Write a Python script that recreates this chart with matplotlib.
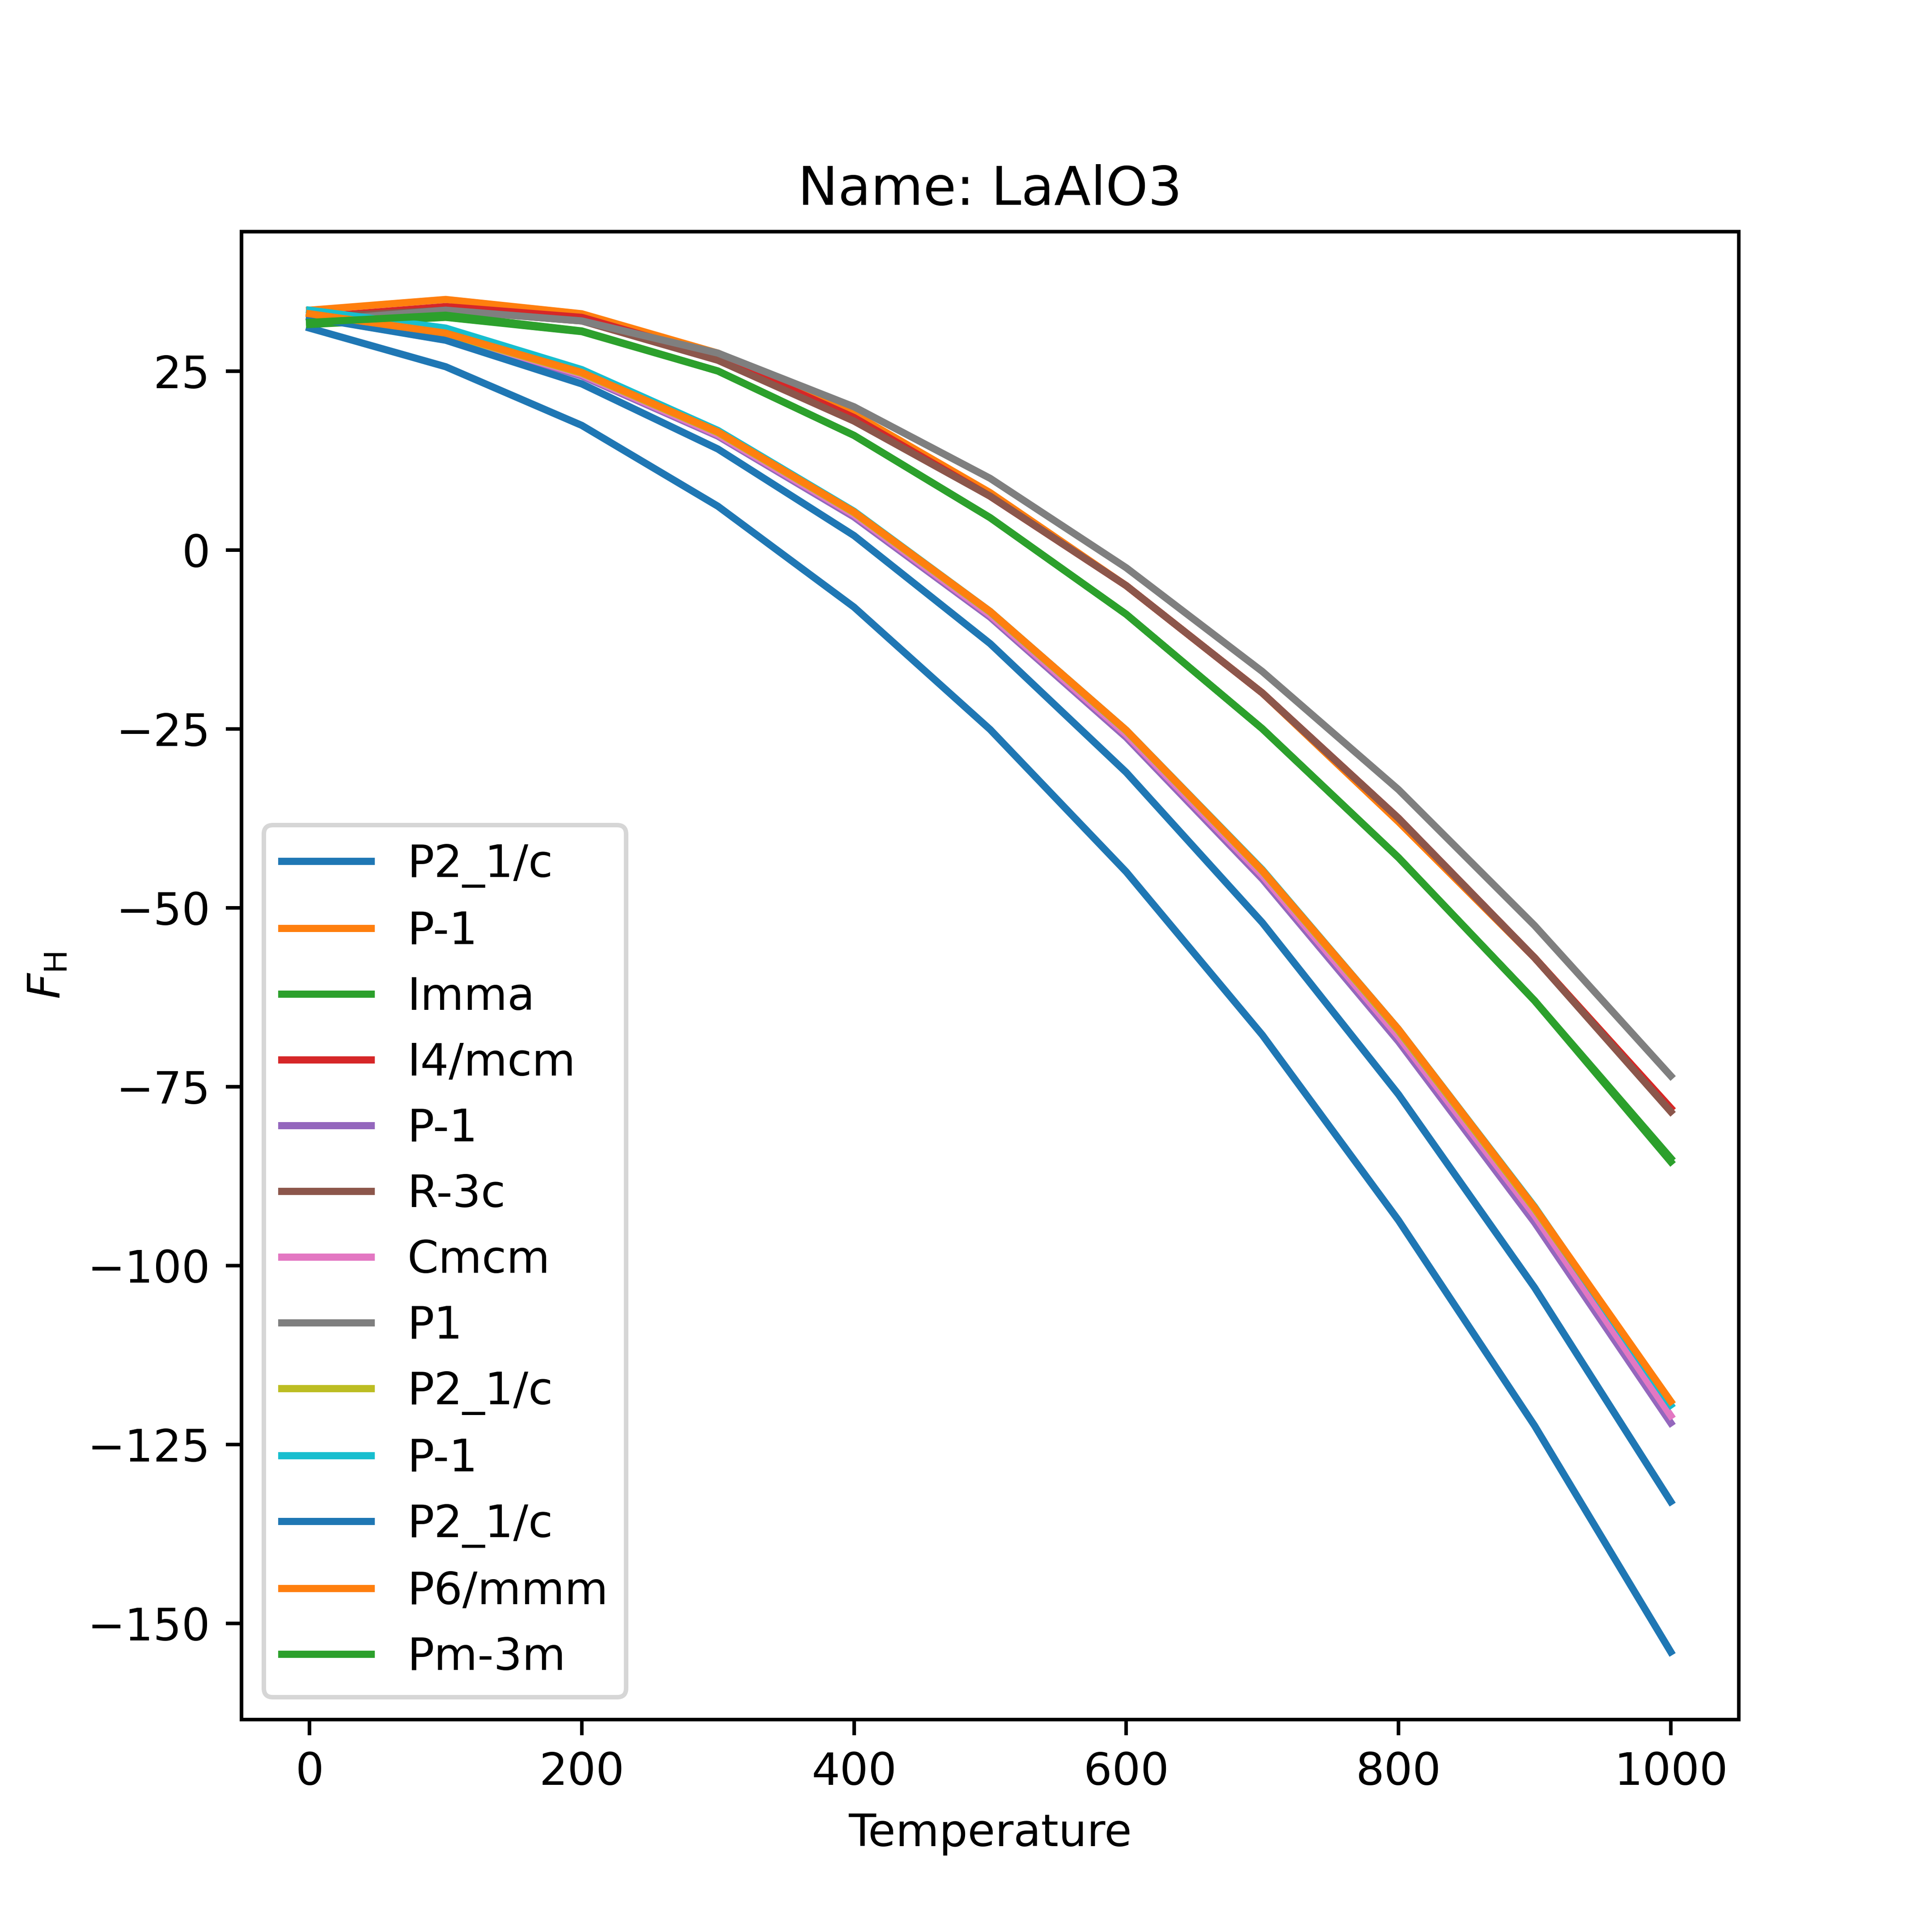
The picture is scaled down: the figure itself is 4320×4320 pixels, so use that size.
import matplotlib
matplotlib.use("Agg")
import matplotlib.pyplot as plt

temperature = [0, 100, 200, 300, 400, 500, 600, 700, 800, 900, 1000]

labels = ["P2_1/c", "P-1", "Imma", "I4/mcm", "P-1", "R-3c", "Cmcm", "P1",
          "P2_1/c", "P-1", "P2_1/c", "P6/mmm", "Pm-3m"]

f_p21c_a = [31, 25.6, 17.4, 6.1, -8, -25.1, -45, -67.8, -93.7, -122.4, -154]
f_p1_a = [33.5, 35, 33, 27.5, 19, 8, -5, -20, -38, -57, -78]
f_imma = [31.5, 32.5, 30.5, 25, 16, 4.5, -9, -25, -43, -63, -85.5]
f_i4mcm = [32.5, 34, 32.5, 27, 18.5, 7.5, -5, -20, -37.5, -57, -78]
f_p1_b = [33, 30, 24.3, 15.9, 4.6, -9.4, -26.2, -46, -68.7, -94, -122]
f_r3c = [32.5, 33.5, 32, 26.5, 18, 7.5, -5, -20, -37.5, -57, -78.5]
f_cmcm = [33, 30.1, 24.5, 16.1, 4.9, -9.1, -25.8, -45.5, -68, -93, -121]
f_p1 = [32, 33.5, 32, 27.5, 20, 10, -2.5, -17, -33.5, -52.5, -73.5]
f_p21c_b = [33, 30.2, 24.7, 16.4, 5.2, -8.7, -25.3, -44.9, -67.2, -92.1, -119]
f_p1_c = [33.5, 31, 25.2, 16.7, 5.4, -8.6, -25.2, -44.7, -67, -91.8, -119.5]
f_p21c_c = [32.5, 29.3, 23.2, 14.1, 2, -13.1, -31.1, -52.1, -76.1, -103.1, -133]
f_p6mmm = [33, 30.3, 24.8, 16.5, 5.3, -8.6, -25.2, -44.8, -67, -91.9, -119]
f_pm3m = [31.8, 32.8, 30.6, 25, 16, 4.5, -9, -25, -43, -63, -85]

series = [f_p21c_a, f_p1_a, f_imma, f_i4mcm, f_p1_b, f_r3c, f_cmcm, f_p1,
          f_p21c_b, f_p1_c, f_p21c_c, f_p6mmm, f_pm3m]

fig, ax = plt.subplots(figsize=(6, 6))
for lab, vals in zip(labels, series):
    ax.plot(temperature, vals, lw=1.6, label=lab)

ax.set_title("Name: LaAlO3")
ax.set_xlabel("Temperature")
ax.set_ylabel(r"$F_{\mathrm{H}}$")
ax.legend(loc="lower left")

fig.savefig("out.png", dpi=720)
